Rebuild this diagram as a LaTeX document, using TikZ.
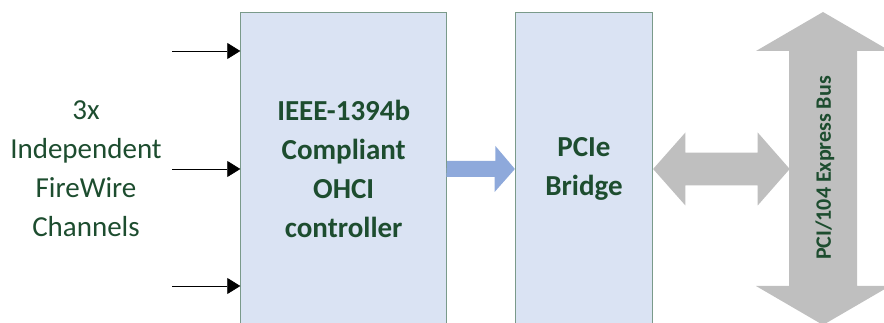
\documentclass[tikz,border=0pt]{standalone}
\usepackage{fontspec}
\setmainfont{Carlito}
\usetikzlibrary{arrows.meta,positioning}
\definecolor{txtgreen}{RGB}{29,77,47}
\definecolor{boxfill}{RGB}{218,227,243}
\definecolor{boxline}{RGB}{122,154,138}
\definecolor{linkblue}{RGB}{142,169,219}
\definecolor{busgray}{RGB}{191,191,191}
\begin{document}
\begin{tikzpicture}[x=1pt,y=1pt,
  chip/.style={draw=boxline,line width=0.8pt,fill=boxfill,minimum height=314pt,
    text=txtgreen,font=\fontsize{29}{39}\selectfont\bfseries,align=center,inner sep=0pt},
  feed/.style={-{Triangle[length=13pt,width=16pt]},line width=0.7pt}]
\useasboundingbox (0,0) rectangle (884,323);
\node[text=txtgreen,font=\fontsize{29}{39}\selectfont,align=center] (chans) at (86,154)
  {3x\\Independent\\FireWire\\Channels};
\node[chip,minimum width=206pt] (ohci) at (343.7,154)
  {IEEE-1394b\\Compliant\\OHCI\\controller};
\node[chip,minimum width=137.4pt] (bridge) at (584,154) {PCIe\\Bridge};
% input channels
\foreach \y/\n in {272/a,154/b,37/c}{
  \coordinate (in\n) at (172,\y);
  \draw[feed] (in\n) -- (in\n -| ohci.west);
}
% controller to bridge
\fill[linkblue] (ohci.east) ++(0,8) -- ++(48.3,0) -- ++(0,15) -- (bridge.west)
  -- ++(-20.3,-23) -- ++(0,15) -- ++(-48.3,0) -- cycle;
% bridge to bus
\fill[busgray] (bridge.east) -- ++(32.3,36.5) -- ++(0,-20.2) -- ++(72.3,0) -- ++(0,20.2)
  -- ++(32,-36.5) -- ++(-32,-36.5) -- ++(0,20.2) -- ++(-72.3,0) -- ++(0,-20.2) -- cycle;
% bus
\coordinate (bus) at (823,154);
\fill[busgray] (bus) ++(0,157) -- ++(67,-39) -- ++(-33,0) -- ++(0,-235) -- ++(33,0)
  -- ++(-67,-39) -- ++(-67,39) -- ++(33,0) -- ++(0,235) -- ++(-33,0) -- cycle;
\node[rotate=90,text=txtgreen,font=\fontsize{22}{26}\selectfont\bfseries] (buslabel)
  at (825,155) {PCI/104 Express Bus};
\end{tikzpicture}
\end{document}
